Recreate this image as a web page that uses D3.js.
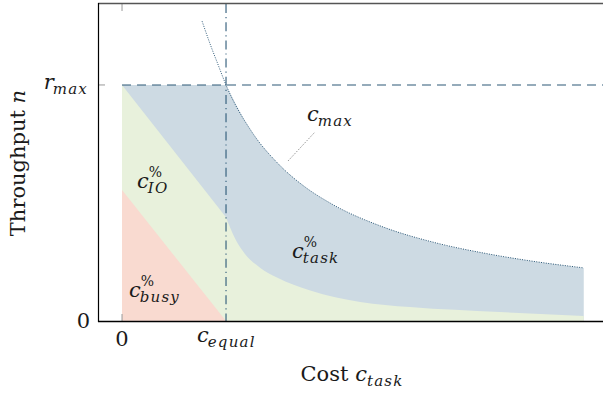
<!DOCTYPE html>
<html>
<head>
<meta charset="utf-8">
<script src="https://cdn.jsdelivr.net/npm/d3@7"></script>
<style>
  body { margin: 0; background: #fff; }
  text { font-family: "DejaVu Serif", "Liberation Serif", serif; fill: #1a1a1a; }
</style>
</head>
<body>
<svg id="chart" width="603" height="395"></svg>
<script>
// values (cost in units of c_equal, throughput in units of r_max)
const maxCost = [0.77, 0.85, 0.92, 1, 1.25, 1.5, 1.75, 2, 2.5, 3, 3.5, 4, 4.44];
const maxThroughput = [1.27, 1.17, 1.09, 1, 0.80, 0.667, 0.571, 0.50, 0.40, 0.333, 0.286, 0.25, 0.225];
const ioCost = [0, 1, 1.087, 1.163, 1.327, 1.49, 1.81, 2.29, 2.77, 3.63, 4.44];
const ioThroughput = [1, 0.44, 0.35, 0.295, 0.226, 0.184, 0.129, 0.081, 0.059, 0.038, 0.021];
const busyCost = [0, 1];
const busyThroughput = [0.555, 0];
const xTicks = [{v: 0, label: "0"}, {v: 1, label: "c", sub: "equal"}];
const yTicks = [{v: 0, label: "0"}, {v: 1, label: "r", sub: "max"}];

const svg = d3.select('#chart');
const x = d3.scaleLinear().domain([-0.231, 4.625]).range([98, 603]);
const y = d3.scaleLinear().domain([0, 1.343]).range([321, 4]);

const pts = (xs, ys) => xs.map((c, i) => ({c, n: ys[i]}));
const area = curve => d3.area().x(d => x(d.c)).y0(y(0)).y1(d => y(d.n)).curve(curve);
const line = curve => d3.line().x(d => x(d.c)).y(d => y(d.n)).curve(curve);

const maxPts = pts(maxCost, maxThroughput);
const ioPts = pts(ioCost, ioThroughput);

// layers, back to front: task (blue), IO (green), busy (red)
// blue: flat at r_max up to c_equal, then the c_max curve
svg.append('path').attr('fill', '#cddae3')
  .attr('d', area(d3.curveLinear)([{c: 0, n: 1}, {c: 1, n: 1}]));
svg.append('path').attr('fill', '#cddae3')
  .attr('d', area(d3.curveMonotoneX)(maxPts.filter(d => d.c >= 1)));
// green: straight down to c_equal, then curving out
svg.append('path').attr('fill', '#e8f1dc')
  .attr('d', area(d3.curveLinear)(ioPts.filter(d => d.c <= 1)));
svg.append('path').attr('fill', '#e8f1dc')
  .attr('d', area(d3.curveMonotoneX)(ioPts.filter(d => d.c >= 1)));
// red
svg.append('path').attr('fill', '#f9dad0')
  .attr('d', area(d3.curveLinear)(pts(busyCost, busyThroughput)));

// c_max dotted curve
svg.append('path').attr('fill', 'none').attr('stroke', '#2c5877')
  .attr('stroke-width', 1).attr('stroke-dasharray', '1,1.4')
  .attr('d', line(d3.curveMonotoneX)(maxPts));

// ticks (gray)
const tickCol = '#999';
svg.append('line').attr('x1', x(0)).attr('x2', x(0)).attr('y1', y.range()[0]).attr('y2', y.range()[0] - 7)
  .attr('stroke', tickCol);
svg.append('line').attr('x1', x(0)).attr('x2', x(0)).attr('y1', y.range()[1]).attr('y2', y.range()[1] + 7)
  .attr('stroke', tickCol);
svg.append('line').attr('x1', x.range()[0]).attr('x2', x.range()[0] + 7).attr('y1', y(1)).attr('y2', y(1))
  .attr('stroke', tickCol);

// r_max dashed and c_equal dash-dot guides
svg.append('line').attr('x1', x(0)).attr('x2', x.range()[1]).attr('y1', y(1)).attr('y2', y(1))
  .attr('stroke', '#2c5877').attr('stroke-width', 1.1).attr('stroke-dasharray', '9,6');
svg.append('line').attr('x1', x(1)).attr('x2', x(1)).attr('y1', y.range()[1]).attr('y2', y.range()[0])
  .attr('stroke', '#2c5877').attr('stroke-width', 1.1).attr('stroke-dasharray', '9,4,1.2,4');

// frame
svg.append('line').attr('x1', x.range()[0]).attr('x2', x.range()[1]).attr('y1', 3.5).attr('y2', 3.5)
  .attr('stroke', '#555').attr('stroke-width', 1.6);
svg.append('line').attr('x1', 98.5).attr('x2', 98.5).attr('y1', 3).attr('y2', 322)
  .attr('stroke', '#000').attr('stroke-width', 1.2);
svg.append('line').attr('x1', 98).attr('x2', 603).attr('y1', 321.5).attr('y2', 321.5)
  .attr('stroke', '#000').attr('stroke-width', 1.3);

// math label: italic letter with optional subscript and superscript
function mathLabel(px, py, base, sub, sup, anchorEnd) {
  const g = svg.append('g');
  const t = g.append('text').attr('x', px).attr('y', py).attr('font-size', 21)
    .attr('font-style', 'italic').text(base);
  const w = t.node().getComputedTextLength();
  if (sup) g.append('text').attr('x', px + w).attr('y', py - 11).attr('font-size', 14).text(sup);
  if (sub) g.append('text').attr('x', px + w - 1).attr('y', py + 5).attr('font-size', 15)
    .attr('letter-spacing', 1.2).attr('font-style', 'italic').text(sub);
  if (anchorEnd) {
    const bb = g.node().getBBox();
    g.attr('transform', `translate(${px - (bb.x + bb.width)},0)`);
  }
  return g;
}

// tick labels
xTicks.forEach(t => {
  if (t.sub) mathLabel(x(t.v) - 29, 342, t.label, t.sub);
  else svg.append('text').attr('x', x(t.v)).attr('y', 346).attr('font-size', 21)
    .attr('text-anchor', 'middle').text(t.label);
});
yTicks.forEach(t => {
  if (t.sub) mathLabel(88, y(t.v) + 4, t.label, t.sub, null, true);
  else svg.append('text').attr('x', 90).attr('y', y(t.v) + 7).attr('font-size', 21)
    .attr('text-anchor', 'end').text(t.label);
});

// axis titles
svg.append('text').attr('x', 352).attr('y', 381).attr('font-size', 21).attr('text-anchor', 'middle')
  .call(t => { t.append('tspan').text('Cost '); t.append('tspan').attr('font-style', 'italic').text('c'); t.append('tspan').attr('font-size', 15).attr('letter-spacing', 1.2).attr('font-style', 'italic').attr('dy', 5).text('task'); });
svg.append('text').attr('transform', 'translate(25,163) rotate(-90)').attr('font-size', 21).attr('text-anchor', 'middle')
  .call(t => { t.append('tspan').text('Throughput '); t.append('tspan').attr('font-style', 'italic').text('n'); });

// region labels
mathLabel(137, 188, 'c', 'IO', '%');
mathLabel(129, 297, 'c', 'busy', '%');
mathLabel(292, 258, 'c', 'task', '%');
mathLabel(307, 121, 'c', 'max');
svg.append('line').attr('x1', 288).attr('y1', 161).attr('x2', 315).attr('y2', 132)
  .attr('stroke', '#777').attr('stroke-width', 1).attr('stroke-dasharray', '1,1.5');
</script>
</body>
</html>
